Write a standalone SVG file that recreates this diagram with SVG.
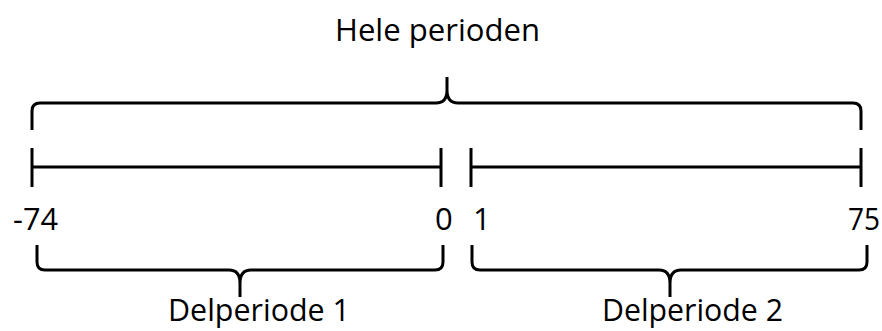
<svg xmlns="http://www.w3.org/2000/svg" width="882" height="331" viewBox="0 0 882 331">
<style>
.ln{fill:none;stroke:#000;stroke-width:3;stroke-linecap:butt;stroke-linejoin:round}
.t{font-family:"Open Sans","Liberation Sans",sans-serif;font-size:31px;fill:#000}
</style>
<rect width="882" height="331" fill="#fff"/>
<g id="connectors">
<path id="brace-top" class="ln" d="M32,130 V111 Q32,103 40,103 H436 Q447,103 447,90 V77 M447,90 Q447,103 458,103 H853 Q861,103 861,111 V130"/>
<path id="axis-left" class="ln" d="M32,167 H441"/>
<path id="axis-right" class="ln" d="M471,167 H861"/>
<path id="tick-m74" class="ln" d="M32,148 V187"/>
<path id="tick-0" class="ln" d="M441,148 V187"/>
<path id="tick-1" class="ln" d="M471,148 V187"/>
<path id="tick-75" class="ln" d="M861,148 V187"/>
<path id="brace-left" class="ln" d="M37,245 V262 Q37,270 45,270 H229 Q240,270 240,283 V297 M240,283 Q240,270 251,270 H435 Q443,270 443,262 V245"/>
<path id="brace-right" class="ln" d="M472,245 V262 Q472,270 480,270 H659 Q670,270 670,283 V297 M670,283 Q670,270 681,270 H859 Q867,270 867,262 V245"/>
</g>
<g id="label-hele"><text class="t" x="335" y="41" textLength="205" lengthAdjust="spacingAndGlyphs">Hele perioden</text></g>
<g id="label-m74"><text class="t" x="13" y="230" textLength="45" lengthAdjust="spacingAndGlyphs">-74</text></g>
<g id="label-0"><text class="t" x="435" y="230">0</text></g>
<g id="label-1"><text class="t" x="473" y="230">1</text></g>
<g id="label-75"><text class="t" x="848" y="230" textLength="32" lengthAdjust="spacingAndGlyphs">75</text></g>
<g id="label-del1"><text class="t" x="168" y="321" textLength="182" lengthAdjust="spacingAndGlyphs">Delperiode 1</text></g>
<g id="label-del2"><text class="t" x="602" y="321" textLength="181" lengthAdjust="spacingAndGlyphs">Delperiode 2</text></g>
</svg>
